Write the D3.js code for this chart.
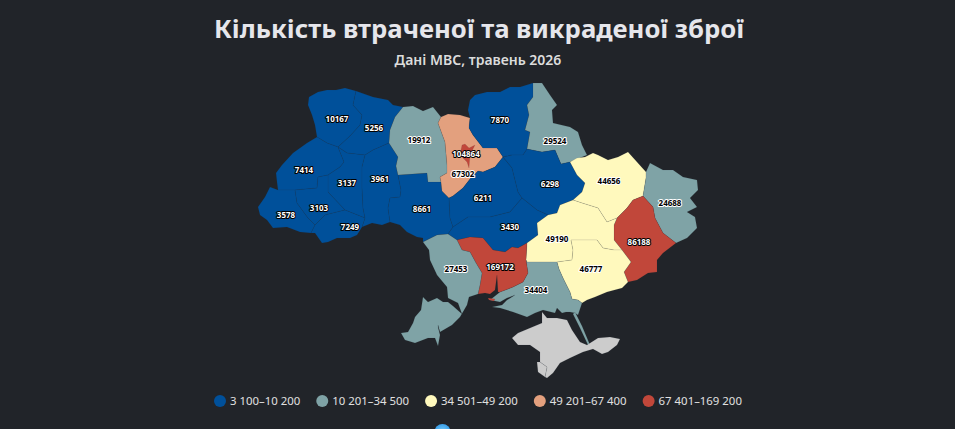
<!DOCTYPE html>
<html>
<head>
<meta charset="utf-8">
<script src="https://cdn.jsdelivr.net/npm/d3@7"></script>
<style>
  html, body { margin: 0; padding: 0; background: #212429; overflow: hidden; }
  text { font-family: "Noto Sans", "Open Sans", sans-serif; }
</style>
</head>
<body>
<script>
//Data
const titleText = "Кількість втраченої та викраденої зброї";
const subtitleText = "Дані МВС, травень 2026";

const regionNames = ["Волинська", "Рівненська", "Львівська", "Тернопільська", "Хмельницька", "Закарпатська",
  "Івано-Франківська", "Чернівецька", "Вінницька", "Житомирська", "Київська", "м. Київ", "Чернігівська", "Сумська",
  "Черкаська", "Полтавська", "Кіровоградська", "Харківська", "Луганська", "Донецька", "Дніпропетровська",
  "Запорізька", "Херсонська", "Миколаївська", "Одеська"];
const regionValues = [10167, 5256, 7414, 3137, 3961, 3578,
  3103, 7249, 8661, 19912, 67302, 104864, 7870, 29524,
  6211, 6298, 3430, 44656, 24688, 86188, 49190,
  46777, 34404, 169172, 27453];

const legendBreaks = [10201, 34501, 49201, 67401];
const legendLabels = ["3 100–10 200", "10 201–34 500", "34 501–49 200", "49 201–67 400", "67 401–169 200"];
const legendColors = ["#00509a", "#7fa3a6", "#fff9bd", "#e3a07e", "#c1473a"];
const labelFills = ["#fff", "#000", "#000", "#000", "#fff"];
const labelHalos = ["#000", "#fff", "#fff", "#fff", "#000"];
const noDataColor = "#cccccc";

//Hand traced outlines, in map units. Each region is a list of rings
const regionRings = [
  [[[309,97],[318,92],[327,90],[336,90],[345,88],[356,91],[353,105],[362,115],[360,125],[350,136],[338,147],[327,143],[317,137],[315,125],[312,115],[308,105]]],
  [[[356,91],[353,105],[362,115],[360,125],[350,136],[338,147],[347,153],[365,155],[373,150],[389,143],[390,130],[395,117],[403,107],[393,105],[388,100],[373,97]]],
  [[[317,137],[327,143],[338,147],[344,162],[340,167],[328,175],[318,177],[317,188],[295,190],[278,190],[277,182],[276,173],[282,165],[293,153],[307,143]]],
  [[[338,147],[347,153],[365,155],[362,167],[362,188],[363,208],[365,218],[345,210],[328,192],[328,175],[340,167],[344,162]]],
  [[[389,143],[373,150],[365,155],[362,167],[362,188],[363,208],[365,218],[362,227],[372,223],[382,225],[390,222],[388,208],[390,198],[400,197],[401,190],[398,175],[396,166],[398,157]]],
  [[[278,190],[270,187],[265,197],[258,207],[260,215],[267,220],[273,228],[287,227],[300,232],[311,233],[315,225],[308,218],[297,203],[295,190]]],
  [[[295,190],[317,188],[318,177],[328,175],[328,192],[345,210],[325,215],[315,225],[308,218],[297,203]]],
  [[[345,210],[365,218],[362,227],[357,235],[350,238],[337,238],[328,242],[322,243],[315,233],[311,233],[315,225],[325,215]]],
  [[[398,175],[427,173],[428,182],[441,182],[442,191],[449,198],[450,218],[453,227],[448,234],[437,235],[423,242],[423,238],[417,237],[407,232],[400,225],[390,222],[388,208],[390,198],[400,197],[401,190]]],
  [[[403,107],[413,106],[423,111],[433,107],[441,117],[438,123],[445,142],[447,165],[447,173],[440,177],[441,182],[428,182],[427,173],[398,175],[396,166],[398,157],[389,143],[390,130],[395,117]]],
  [[[441,117],[448,114],[460,115],[470,118],[469,128],[473,135],[483,148],[497,148],[503,157],[495,167],[483,172],[478,171],[470,179],[463,188],[453,196],[449,198],[442,191],[441,182],[440,177],[447,173],[447,165],[445,142],[438,123]]],
  [[[462,145],[465,144],[469,148],[475,145],[470,155],[469,168],[467,162],[460,155]]],
  [[[470,118],[468,110],[470,100],[475,95],[487,92],[500,92],[510,87],[520,87],[533,83],[533,97],[527,105],[529,115],[525,130],[530,132],[527,149],[523,155],[512,155],[503,157],[497,148],[483,148],[473,135],[469,128]]],
  [[[533,83],[542,83],[550,95],[557,105],[552,110],[553,123],[570,127],[578,132],[582,145],[587,155],[570,162],[561,164],[555,150],[542,152],[527,149],[530,132],[525,130],[529,115],[527,105],[533,97]]],
  [[[449,198],[453,196],[463,188],[470,179],[478,171],[483,172],[495,167],[503,157],[512,168],[518,192],[522,198],[510,212],[490,217],[468,217],[453,227],[450,218]]],
  [[[503,157],[512,155],[523,155],[527,149],[542,152],[555,150],[561,164],[570,162],[577,175],[585,183],[582,192],[573,200],[560,205],[557,213],[548,215],[537,210],[522,198],[518,192],[512,168]]],
  [[[453,227],[468,217],[490,217],[510,212],[522,198],[537,210],[548,215],[537,223],[538,235],[527,243],[518,248],[512,247],[505,252],[493,250],[483,238],[470,237],[457,240],[448,234]]],
  [[[570,162],[577,158],[585,157],[593,153],[598,155],[608,160],[618,157],[628,152],[637,162],[646,172],[646,178],[643,196],[633,200],[627,208],[617,218],[607,222],[598,208],[582,203],[573,200],[582,192],[585,183],[577,175]]],
  [[[646,172],[650,163],[663,170],[673,170],[683,177],[697,180],[698,190],[690,198],[697,207],[687,212],[695,217],[697,228],[687,238],[676,243],[663,233],[655,218],[653,207],[643,196],[646,178]]],
  [[[617,218],[627,208],[633,200],[643,196],[653,207],[655,218],[663,233],[676,243],[663,253],[657,260],[657,272],[648,273],[637,280],[628,282],[624,272],[631,262],[622,250],[614,240],[614,225]]],
  [[[527,243],[538,235],[537,223],[548,215],[557,213],[560,205],[573,200],[582,203],[598,208],[607,222],[617,218],[614,225],[614,240],[622,250],[614,250],[603,248],[597,240],[580,240],[571,240],[573,250],[572,260],[557,262],[527,262],[526,260]]],
  [[[557,262],[572,260],[573,250],[571,240],[580,240],[597,240],[603,248],[614,250],[622,250],[631,262],[624,272],[628,282],[622,288],[607,292],[595,297],[587,300],[582,303],[578,300],[572,299],[570,292],[563,278],[559,269]]],
  [[[527,262],[557,262],[559,269],[563,278],[570,292],[572,299],[578,300],[582,303],[578,315],[575,313],[570,312],[566,312],[562,313],[557,308],[555,313],[547,311],[543,310],[535,313],[527,317],[513,312],[500,308],[492,307],[502,305],[507,300],[515,295],[507,298],[500,302],[490,300],[500,292],[513,287],[523,282],[528,273],[526,260]],
    [[575,312],[582,326],[590,345],[588,345],[580,328],[573,314]]],
  [[[457,240],[470,237],[483,238],[493,250],[505,252],[512,247],[518,248],[527,243],[526,260],[528,273],[523,282],[513,287],[500,292],[498,292],[497,275],[495,290],[490,294],[485,293],[478,294],[480,285],[482,273],[476,263],[470,252],[462,250]],
    [[488,298],[495,299],[494,301],[489,300]]],
  [[[423,242],[437,235],[448,234],[457,240],[462,250],[470,252],[476,263],[482,273],[480,285],[478,294],[469,297],[467,305],[460,317],[452,325],[440,332],[438,325],[438,327],[440,335],[438,346],[435,338],[428,338],[415,343],[405,340],[401,333],[408,332],[413,323],[415,317],[421,310],[423,297],[428,302],[437,298],[443,302],[448,302],[453,306],[462,314],[458,303],[448,298],[447,287],[437,275],[430,260],[429,250]]]
];
const labelPoints = [[337,119],[374,128],[304,170],[347,183],[380,179],[286,215],[319,208],[350,227],[422,209],[419,140],
  [463,174],[466,154],[500,120],[555,141],[483,198],[550,184],[510,227],[609,181],[670,203],[639,242],[557,239],
  [591,269],[536,290],[500,267],[456,269]];

const crimeaRings = [
  [[[542,312],[547,318],[557,318],[567,320],[572,330],[580,342],[587,345],[598,338],[610,337],[620,339],[617,345],[608,352],[602,354],[593,349],[583,352],[570,358],[560,363],[553,373],[547,378],[545,377],[547,367],[540,362],[540,352],[530,345],[518,345],[512,338],[518,333],[530,328],[542,323]]],
  [[[540,362],[547,367],[545,377],[538,372],[537,362]]]
];

//Declare consts
const width = 955;
const height = 429;

const svg = d3.select("body").append("svg")
  .attr("width", width)
  .attr("height", height)
  .style("display", "block");

//Scales
const colorScale = d3.scaleThreshold().domain(legendBreaks).range(legendColors);
const labelFill = d3.scaleThreshold().domain(legendBreaks).range(labelFills);
const labelHalo = d3.scaleThreshold().domain(legendBreaks).range(labelHalos);

//Map
//geoPath drops the last point of a ring, so close them first
const toShape = (rings, value, name) => ({
  type: "Feature",
  properties: { name: name, value: value },
  geometry: { type: "MultiPolygon", coordinates: rings.map(r => [r.concat([r[0]])]) }
});
const regions = regionRings.map((rings, i) => toShape(rings, regionValues[i], regionNames[i]));
const crimea = crimeaRings.map(rings => toShape(rings, null, "Крим"));
const allShapes = { type: "FeatureCollection", features: regions.concat(crimea) };

const projection = d3.geoIdentity().fitExtent([[258, 83], [698, 378]], allShapes);
const path = d3.geoPath(projection);

svg.append("g")
  .selectAll("path")
  .data(allShapes.features)
  .enter()
  .append("path")
  .attr("d", path)
  .attr("fill", d => d.properties.value === null ? noDataColor : colorScale(d.properties.value))
  .attr("stroke", "#26323e")
  .attr("stroke-opacity", 0.25)
  .attr("stroke-width", 0.4);

//Labels
svg.append("g")
  .selectAll("text")
  .data(regions)
  .enter()
  .append("text")
  .attr("transform", (d, i) => "translate(" + projection(labelPoints[i]) + ")")
  .attr("text-anchor", "middle")
  .attr("dy", "0.35em")
  .attr("font-size", 8)
  .attr("font-weight", 700)
  .attr("fill", d => labelFill(d.properties.value))
  .attr("stroke", d => labelHalo(d.properties.value))
  .attr("stroke-width", 2)
  .attr("paint-order", "stroke")
  .attr("stroke-linejoin", "round")
  .text(d => d.properties.value);

//Title
svg.append("text")
  .attr("x", 479)
  .attr("y", 38)
  .attr("text-anchor", "middle")
  .attr("font-size", 25.7)
  .attr("font-weight", 700)
  .attr("fill", "#e6e6eb")
  .text(titleText);

svg.append("text")
  .attr("x", 478)
  .attr("y", 65)
  .attr("text-anchor", "middle")
  .attr("font-size", 14)
  .attr("font-weight", 600)
  .attr("fill", "#dcdcdc")
  .text(subtitleText);

//Legend
const legend = svg.append("g");
let legendX = 214;
legendLabels.forEach((label, i) => {
  legend.append("circle")
    .attr("cx", legendX + 6)
    .attr("cy", 401)
    .attr("r", 6)
    .attr("fill", legendColors[i]);
  const t = legend.append("text")
    .attr("x", legendX + 16)
    .attr("y", 405)
    .attr("font-size", 11.4)
    .attr("fill", "#e0e0e0")
    .text(label);
  legendX += 16 + t.node().getComputedTextLength() + 16;
});

//Badge cut off by the bottom of the page
const badge = svg.append("defs").append("radialGradient").attr("id", "badge");
badge.append("stop").attr("offset", "0%").attr("stop-color", "#7fd0fa");
badge.append("stop").attr("offset", "100%").attr("stop-color", "#3a9fe8");
svg.append("circle")
  .attr("cx", 442.5)
  .attr("cy", 432)
  .attr("r", 8)
  .attr("fill", "url(#badge)");
</script>
</body>
</html>
